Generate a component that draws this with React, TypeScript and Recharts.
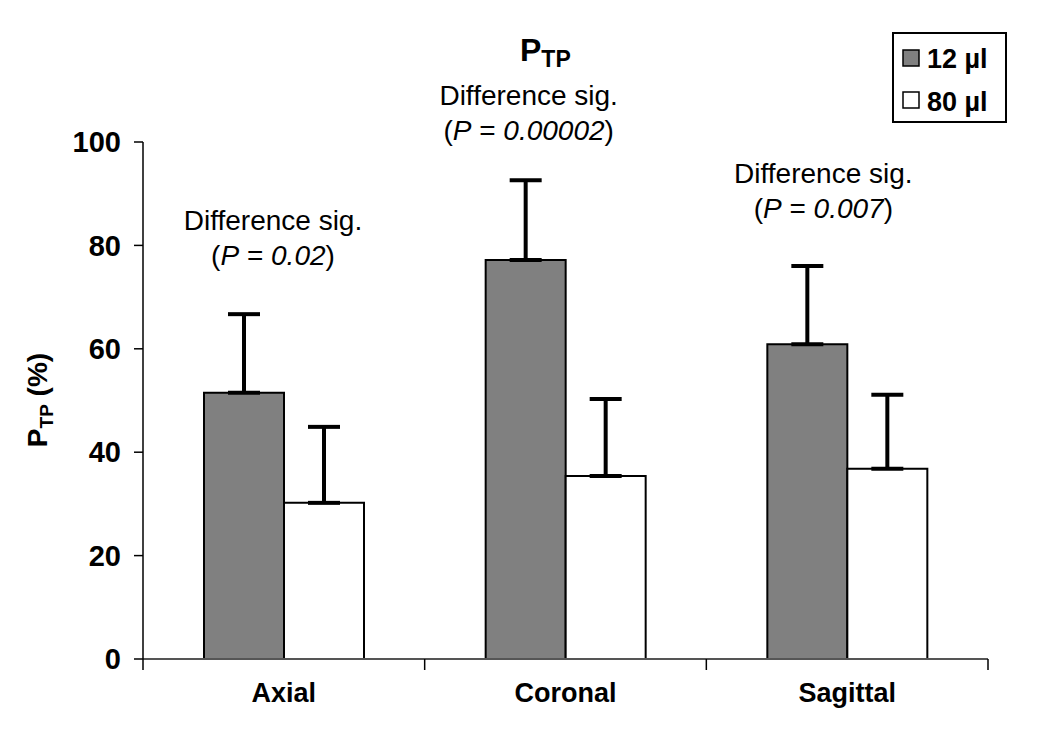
import React from 'react';
import { BarChart, Bar, XAxis, YAxis, ErrorBar, LabelList } from 'recharts';

const categories = ['Axial', 'Coronal', 'Sagittal'];
const vol12 = [51.5, 77.2, 60.9];
const vol80 = [30.2, 35.4, 36.8];
const err12 = [15.2, 15.4, 15.1];
const err80 = [14.7, 14.9, 14.3];
const pValues = ['0.02', '0.00002', '0.007'];
const yTicks = [0, 20, 40, 60, 80, 100];
const seriesNames = ['12 µl', '80 µl'];

const data = categories.map((c, i) => ({
  name: c,
  v12: vol12[i],
  v80: vol80[i],
  e12: [0, err12[i]],
  e80: [0, err80[i]],
  p: pValues[i],
}));

const FONT = '"Liberation Sans", Arial, sans-serif';
// annotation placement relative to the pair of bars (style only)
const annDx = [-11, -37, -24];
const annDy = [-163, -155, -161];
const X_TICK_MARGIN = 24;
const X_TICK_LEN = 11;

const Annotation = (props: any) => {
  const { x, y, width, index } = props;
  const cx = x + width + annDx[index];
  const by = y + annDy[index];
  return (
    <g>
      <text x={cx} y={by} textAnchor="middle" fontFamily={FONT} fontSize={28} fill="#000">
        Difference sig.
      </text>
      <text x={cx} y={by + 35} textAnchor="middle" fontFamily={FONT} fontSize={28} fill="#000">
        (<tspan fontStyle="italic">P</tspan> = <tspan fontStyle="italic">{pValues[index]}</tspan>)
      </text>
    </g>
  );
};

// category tick: label at the band centre, short tick marks at band boundaries
const CategoryTick = (props: any) => {
  const { x, y, payload, index, visibleTicksCount, width } = props;
  const count = visibleTicksCount || categories.length;
  const half = Number(width) > 0 ? Number(width) / count / 2 : 0;
  const axisY = y - X_TICK_MARGIN;
  return (
    <g>
      {half > 0 && (
        <line x1={x - half} x2={x - half} y1={axisY} y2={axisY + X_TICK_LEN} stroke="#000" strokeWidth={1.5} />
      )}
      {half > 0 && index === count - 1 && (
        <line x1={x + half} x2={x + half} y1={axisY} y2={axisY + X_TICK_LEN} stroke="#000" strokeWidth={1.5} />
      )}
      <text
        x={x}
        y={y}
        dy="0.71em"
        textAnchor="middle"
        fontFamily={FONT}
        fontSize={27}
        fontWeight="bold"
        fill="#000"
      >
        {payload.value}
      </text>
    </g>
  );
};

const YLabel = () => (
  <text
    x={0}
    y={0}
    transform="translate(47, 400) rotate(-90)"
    textAnchor="middle"
    fontFamily={FONT}
    fontSize={28}
    fontWeight="bold"
    fill="#000"
  >
    P<tspan fontSize={19} dy={6}>TP</tspan><tspan dy={-6}> (%)</tspan>
  </text>
);

export default function App() {
  return (
    <div style={{ position: 'absolute', left: 0, top: 0, width: 1050, height: 735, background: '#fff' }}>
      <BarChart
        width={1050}
        height={735}
        data={data}
        margin={{ top: 142, right: 62, bottom: 16, left: 0 }}
        barCategoryGap="21.6%"
        barGap={0}
      >
        <XAxis
          dataKey="name"
          height={60}
          axisLine={{ stroke: '#555', strokeWidth: 2 }}
          tickLine={false}
          tickSize={0}
          tickMargin={X_TICK_MARGIN}
          interval={0}
          tick={<CategoryTick />}
        />
        <YAxis
          width={143}
          domain={[0, 100]}
          ticks={yTicks}
          tickSize={9}
          tickMargin={13}
          axisLine={{ stroke: '#000', strokeWidth: 1.5 }}
          tickLine={{ stroke: '#000', strokeWidth: 1.5 }}
          tick={{ fill: '#000', fontSize: 29, fontWeight: 'bold', fontFamily: FONT }}
          label={<YLabel />}
        />
        <Bar
          dataKey="v12"
          name={seriesNames[0]}
          fill="#808080"
          stroke="#000"
          strokeWidth={2}
          barSize={80}
          isAnimationActive={false}
        >
          <ErrorBar dataKey="e12" width={16} strokeWidth={4} stroke="#000" direction="y" />
          <LabelList dataKey="v12" content={<Annotation />} />
        </Bar>
        <Bar
          dataKey="v80"
          name={seriesNames[1]}
          fill="#ffffff"
          stroke="#000"
          strokeWidth={2}
          barSize={80}
          isAnimationActive={false}
        >
          <ErrorBar dataKey="e80" width={16} strokeWidth={4} stroke="#000" direction="y" />
        </Bar>
      </BarChart>
      <svg width={1050} height={130} style={{ position: 'absolute', left: 0, top: 0, pointerEvents: 'none' }}>
        <text x={520} y={61} fontFamily={FONT} fontSize={32} fontWeight="bold" fill="#000">
          P<tspan fontSize={23} dy={6}>TP</tspan>
        </text>
        <g transform="translate(892, 32)">
          <rect x={1} y={1} width={113} height={89} fill="#fff" stroke="#000" strokeWidth={2} />
          <rect x={11} y={18} width={16} height={16} fill="#808080" stroke="#000" strokeWidth={1.5} />
          <text x={35} y={36} fontFamily={FONT} fontSize={27} fontWeight="bold" fill="#000">{seriesNames[0]}</text>
          <rect x={11} y={60} width={16} height={16} fill="#fff" stroke="#000" strokeWidth={1.5} />
          <text x={35} y={79} fontFamily={FONT} fontSize={27} fontWeight="bold" fill="#000">{seriesNames[1]}</text>
        </g>
      </svg>
    </div>
  );
}
